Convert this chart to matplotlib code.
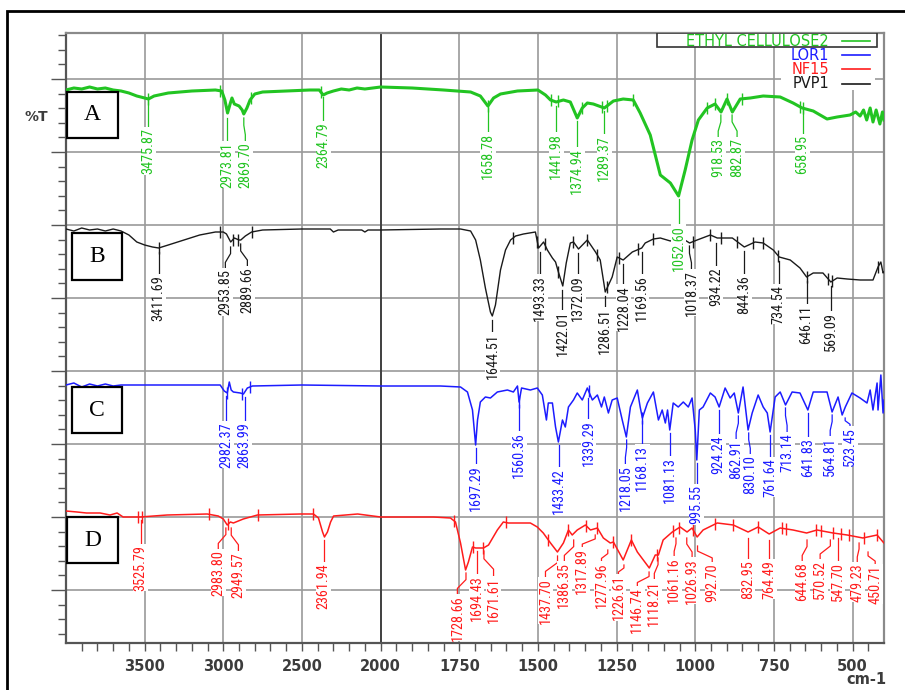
import numpy as np
import matplotlib
matplotlib.use('Agg')
import matplotlib.pyplot as plt
import matplotlib.patches as patches
from matplotlib import font_manager
from matplotlib.ticker import FixedLocator, FuncFormatter

# ---------------- data (wavenumber, %T in chart units) ----------------
ec_wn = [4000, 3950, 3900, 3850, 3800, 3750, 3700, 3650, 3600, 3550, 3500, 3476, 3440, 3350, 3200,
         3050, 3010, 2990, 2973, 2955, 2945, 2930, 2900, 2880, 2870, 2850, 2830, 2800, 2750, 2600,
         2450, 2390, 2375, 2365, 2340, 2300, 2250, 2200, 2150, 2100, 2050, 2000, 1900, 1800, 1714,
         1683, 1659, 1641, 1619, 1565, 1500, 1476, 1460, 1442, 1419, 1397, 1375, 1359, 1343, 1324,
         1289, 1260, 1229, 1197, 1175, 1143, 1111, 1079, 1053, 1032, 1010, 990, 962, 937, 918, 899,
         882, 857, 825, 784, 730, 689, 660, 625, 581, 549, 508, 490, 476, 465, 455, 444, 435, 425,
         413, 405, 400]
ec_t = [600, 602, 601, 603, 601, 602, 600, 599, 597, 594, 592, 591, 594, 597, 599,
        600, 599, 590, 577, 587, 592, 586, 584, 580, 576, 582, 590, 596, 598, 599,
        600, 600, 597, 595, 597, 599, 601, 600, 602, 601, 602, 603, 602, 600, 598,
        594, 584, 592, 596, 599, 600, 595, 590, 588, 590, 588, 572, 582, 587, 586,
        582, 589, 591, 590, 577, 555, 515, 507, 494, 520, 550, 570, 582, 586, 578, 591,
        578, 591, 592, 594, 593, 587, 582, 579, 571, 573, 575, 578, 574, 580, 570, 582, 568, 580,
        566, 578, 570]

pvp_wn = [4000, 3950, 3900, 3850, 3800, 3750, 3700, 3650, 3600, 3550, 3500, 3450, 3411, 3350, 3250,
          3150, 3050, 3000, 2980, 2953, 2930, 2900, 2889, 2860, 2820, 2750, 2500, 2320, 2300, 2270,
          2120, 2100, 2080, 2000, 1810, 1746, 1714, 1698, 1683, 1667, 1651, 1645, 1635, 1619, 1603,
          1587, 1571, 1546, 1508, 1498, 1482, 1470, 1454, 1444, 1435, 1421, 1410, 1397, 1387, 1371,
          1343, 1317, 1302, 1286, 1264, 1248, 1229, 1200, 1170, 1159, 1133, 1111, 1079, 1048, 1018,
          994, 952, 930, 914, 882, 844, 810, 784, 752, 733, 698, 667, 646, 625, 594, 569, 549, 517,
          476, 435, 419, 410, 403, 400]
pvp_t = [461, 459, 462, 460, 461, 459, 461, 459, 455, 448, 445, 443, 442, 445, 450,
         455, 458, 458, 456, 448, 452, 450, 450, 454, 458, 460, 461, 461, 458, 460,
         460, 458, 460, 460, 461, 461, 459, 450, 430, 402, 378, 374, 385, 420, 440,
         450, 454, 456, 458, 442, 448, 440, 432, 428, 418, 404, 427, 447, 448, 441,
         450, 438, 430, 398, 413, 433, 430, 438, 442, 447, 451, 452, 449, 453, 447,
         450, 455, 452, 452, 452, 443, 448, 447, 440, 433, 430, 422, 413, 417, 417, 408, 412, 411,
         410, 410, 423, 428, 417, 418]

lor_wn = [4000, 3950, 3900, 3850, 3800, 3750, 3700, 3650, 3500, 3020, 2994, 2975, 2962, 2950, 2936,
          2892, 2872, 2847, 2815, 2500, 2000, 1810, 1746, 1724, 1708, 1698, 1692, 1683, 1667, 1651,
          1629, 1597, 1578, 1565, 1560, 1552, 1524, 1502, 1486, 1473, 1467, 1454, 1444, 1435, 1422,
          1413, 1403, 1387, 1375, 1359, 1343, 1327, 1311, 1298, 1289, 1276, 1264, 1248, 1232, 1219,
          1206, 1184, 1175, 1168, 1152, 1133, 1117, 1105, 1095, 1088, 1081, 1070, 1054, 1038, 1022,
          1010, 1000, 995, 987, 975, 952, 937, 924, 905, 889, 876, 863, 848, 832, 819, 800, 784, 771,
          762, 746, 730, 713, 692, 667, 642, 625, 581, 565, 546, 533, 523, 502, 476, 454, 444, 435,
          422, 419, 410, 403, 400]
lor_t = [305, 307, 303, 306, 304, 306, 304, 305, 305, 305, 299, 297, 308, 300, 298,
         297, 296, 302, 304, 305, 304, 304, 303, 298, 280, 245, 270, 288, 293, 292,
         298, 300, 298, 304, 288, 302, 300, 302, 295, 270, 287, 287, 263, 248, 270,
         263, 283, 290, 297, 290, 302, 290, 295, 283, 293, 277, 290, 292, 270, 253,
         283, 300, 283, 272, 287, 298, 270, 280, 267, 280, 260, 287, 283, 288, 283,
         292, 260, 230, 280, 283, 297, 293, 283, 302, 292, 297, 277, 303, 260, 277, 295, 283, 277,
         258, 293, 298, 285, 298, 297, 280, 298, 298, 278, 293, 275, 283, 297, 292, 287, 300, 280,
         307, 280, 315, 277, 290]

nf_wn = [4000, 3930, 3870, 3783, 3720, 3675, 3637, 3529, 3357, 3102, 3032, 3000, 2975, 2955, 2936,
         2873, 2783, 2510, 2427, 2395, 2369, 2357, 2338, 2318, 2299, 2146, 2000, 1832, 1778, 1762,
         1746, 1730, 1721, 1708, 1698, 1689, 1673, 1657, 1629, 1610, 1594, 1565, 1524, 1502, 1483,
         1460, 1438, 1419, 1403, 1391, 1375, 1349, 1333, 1311, 1292, 1270, 1260, 1229, 1203, 1184,
         1146, 1127, 1117, 1102, 1073, 1048, 1026, 1010, 994, 975, 930, 879, 832, 800, 765, 730,
         689, 646, 613, 562, 517, 467, 422, 403, 400]
nf_t = [179, 178, 177, 177, 175, 177, 173, 173, 175, 176, 174, 171, 165, 168, 167,
        171, 175, 176, 176, 172, 158, 153, 158, 168, 174, 176, 173, 173, 172, 168,
        147, 120, 128, 143, 142, 142, 142, 145, 160, 168, 167, 167, 167, 163, 157,
        147, 138, 147, 160, 155, 160, 165, 160, 162, 152, 147, 148, 130, 150, 138,
        122, 135, 135, 150, 158, 163, 158, 162, 153, 160, 167, 165, 158, 163, 156, 162,
        160, 157, 160, 157, 155, 152, 155, 148, 147]

# peak labels: text, x of text (cm-1), leader start, text top
ec_peaks = ['3475.87', '2973.81', '2869.70', '2364.79', '1658.78', '1441.98', '1374.94', '1289.37',
            '1052.60', '918.53', '882.87', '658.95']
ec_px = [3475.87, 2973.81, 2860, 2364.79, 1658.78, 1441.98, 1374.94, 1289.37, 1052.60, 927, 867, 658.95]
ec_from = [590, 572, 572, 593, 582, 584, 569, 579, 491, 575, 575, 580]
ec_top = [562, 548, 548, 568, 557, 557, 542, 555, 465, 552, 552, 555]

pvp_peaks = ['3411.69', '2953.85', '2889.66', '1644.51', '1493.33', '1422.01', '1372.09', '1286.51',
             '1228.04', '1169.56', '1018.37', '934.22', '844.36', '734.54', '646.11', '569.09']
pvp_px = [3411.69, 2987, 2847, 1644.51, 1493.33, 1422.01, 1372.09, 1286.51, 1228.04, 1169.56, 1012,
          934.22, 844.36, 734.54, 646.11, 569.09]
pvp_from = [438, 443, 446, 370, 438, 400, 437, 394, 426, 438, 444, 447, 439, 429, 409, 404]
pvp_top = [415, 421, 423, 357, 415, 379, 415, 382, 405, 415, 420, 423, 415, 405, 385, 378]

lor_peaks = ['2982.37', '2863.99', '1697.29', '1560.36', '1433.42', '1339.29', '1218.05', '1168.13',
             '1081.13', '995.55', '924.24', '862.91', '830.10', '761.64', '713.14', '641.83', '564.81',
             '523.45']
lor_px = [2982.37, 2863.99, 1697.29, 1560.36, 1433.42, 1339.29, 1222, 1168.13, 1081.13, 995.55, 927,
          870, 825, 761.64, 708, 641.83, 571, 508]
lor_from = [294, 293, 242, 285, 245, 292, 250, 269, 257, 227, 280, 274, 257, 255, 282, 277, 275, 272]
lor_top = [268, 268, 225, 258, 222, 270, 225, 245, 233, 205, 255, 250, 235, 232, 257, 252, 253, 263]

nf_peaks = ['3525.79', '2983.80', '2949.57', '2361.94', '1728.66', '1694.43', '1671.61', '1437.70',
            '1386.35', '1317.89', '1277.96', '1226.61', '1146.74', '1118.21', '1061.16', '1026.93',
            '992.70', '832.95', '764.49', '644.68', '570.52', '547.70', '479.23', '450.71']
nf_px = [3525.79, 3032, 2904, 2361.94, 1756, 1694.43, 1641, 1476, 1416, 1359, 1298, 1244, 1184, 1130,
         1067, 1010, 946, 832.95, 764.49, 660, 603, 547.70, 485, 428]
nf_from = [170, 162, 162, 150, 117, 139, 139, 134, 150, 155, 140, 125, 118, 132, 152, 152, 144, 152,
           150, 150, 150, 152, 147, 138]
nf_top = [145, 140, 138, 127, 95, 115, 113, 112, 128, 142, 128, 115, 103, 110, 133, 132, 127, 130,
          130, 128, 130, 128, 127, 125]

# small peak-pick markers on each trace
ec_marks = [3476, 3019, 2822, 2382, 1659, 1457, 1435, 1359, 1295, 1279, 1197, 962, 937, 899, 851, 667, 657]
pvp_marks = [3411, 3020, 2940, 2905, 2820, 1578, 1502, 1479, 1435, 1390, 1343, 1311, 1279, 1241, 1181,
             1133, 1006, 952, 918, 867, 816, 784, 737, 644, 578, 565, 419]
lor_marks = [2975, 2880, 2830, 1560, 1339, 1168]
nf_marks = [3540, 3516, 3089, 2968, 2777, 2427, 1768, 1705, 1676, 1603, 1467, 1403, 1346, 1311, 1261,
            1203, 1121, 1070, 1051, 1006, 937, 879, 800, 724, 711, 616, 600, 562, 537, 511, 463, 422]

x_major = [3500, 3000, 2500, 2000, 1750, 1500, 1250, 1000, 750, 500]

GREEN, BLUE, RED, BLACK = '#22c422', '#1c1cff', '#ff1c1c', '#1a1a1a'

# pick a narrow font for the peak labels if one exists
names = {f.name for f in font_manager.fontManager.ttflist}
narrow = next((n for n in ['Liberation Sans Narrow', 'Roboto Condensed', 'Open Sans Condensed',
                           'Arial Narrow'] if n in names), None)
if narrow:
    pk_font = dict(family=narrow, fontsize=10.3)
else:
    pk_font = dict(family='DejaVu Sans', fontstretch='condensed', fontsize=7.8)


def fwd(x):
    x = np.asarray(x, dtype=float)
    return np.where(x >= 2000, x / 2 + 1000, x)


def inv(u):
    u = np.asarray(u, dtype=float)
    return np.where(u >= 2000, 2 * (u - 1000), u)


fig = plt.figure(figsize=(9.05, 6.9), dpi=100)
ax = fig.add_axes([66 / 905, 47 / 690, 818 / 905, 610 / 690])
ax.set_xscale('function', functions=(fwd, inv))
ax.set_xlim(4000, 400)
ax.set_ylim(47, 657)

# pixel helpers for boxes etc. (axes fraction)
def fx(px):
    return (px - 66) / 818


def fy(py):
    return (643 - py) / 610


traces = [
    (ec_wn, ec_t, GREEN, 2.2, ec_peaks, ec_px, ec_from, ec_top, ec_marks),
    (pvp_wn, pvp_t, BLACK, 1.0, pvp_peaks, pvp_px, pvp_from, pvp_top, pvp_marks),
    (lor_wn, lor_t, BLUE, 1.1, lor_peaks, lor_px, lor_from, lor_top, lor_marks),
    (nf_wn, nf_t, RED, 1.1, nf_peaks, nf_px, nf_from, nf_top, nf_marks),
]

for wn, t, col, lw, peaks, tx, y0, y1, marks in traces:
    wn = np.array(wn, float)
    t = np.array(t, float)
    ax.plot(wn, t, color=col, lw=lw, zorder=3)
    my = np.interp(marks, wn[::-1], t[::-1])
    ax.vlines(marks, my - 6, my + 6, color=col, lw=1.0, zorder=3)
    for lab, x_t, a, b in zip(peaks, tx, y0, y1):
        pk = float(lab)
        d = a - b
        if abs(x_t - pk) < 3:
            xs, ys = [pk, pk], [a, b + 1]
        else:
            xs = [pk, pk, x_t, x_t]
            ys = [a, a - 0.3 * d, a - 0.7 * d, b + 1]
        ax.plot(xs, ys, color=col, lw=0.9, zorder=3)
        ax.text(x_t, b, lab, rotation=90, ha='center', va='top', color=col, zorder=4,
                bbox=dict(facecolor='white', edgecolor='none', pad=0.4), **pk_font)

# axes styling
ax.xaxis.set_major_locator(FixedLocator(x_major))
minor = [v for v in list(range(3900, 2000, -100)) + list(range(1950, 400, -50)) if v not in x_major]
ax.xaxis.set_minor_locator(FixedLocator(minor))
ax.xaxis.set_major_formatter(FuncFormatter(lambda v, p: f'{v:.0f}'))
ax.yaxis.set_major_locator(FixedLocator(np.arange(100, 620, 73)))
ax.yaxis.set_minor_locator(FixedLocator([v for v in np.arange(56.2, 657, 14.6)
                                         if min(abs(v - np.arange(100, 620, 73))) > 1]))
ax.set_yticklabels([])
ax.tick_params(axis='x', which='both', direction='out', length=6, width=1, color='#555555',
               pad=5.5, labelsize=10.5, labelcolor='#3c3c3c')
ax.tick_params(axis='y', which='major', direction='out', length=11, width=1, color='#555555')
ax.tick_params(axis='y', which='minor', direction='out', length=6, width=1, color='#555555')
for lab in ax.get_xticklabels():
    lab.set_fontweight('bold')
ax.grid(True, which='major', color='#9a9a9a', lw=1.2, zorder=1)
ax.axvline(2000, color='#3a3a3a', lw=1.3, zorder=1.5)
for s in ['left', 'bottom']:
    ax.spines[s].set_color('#555555')
    ax.spines[s].set_linewidth(1.6)
for s in ['top', 'right']:
    ax.spines[s].set_color('#8a8a8a')
    ax.spines[s].set_linewidth(1.6)
ax.set_axisbelow(True)

# legend drawn by hand: box only round the first entry
ax.add_patch(patches.Rectangle((fx(781), fy(90)), fx(875) - fx(781), fy(47) - fy(90),
                               transform=ax.transAxes, facecolor='white', edgecolor='none', zorder=2.5))
ax.add_patch(patches.Rectangle((fx(657), fy(47)), fx(877) - fx(657), fy(33) - fy(47),
                               transform=ax.transAxes, facecolor='white', edgecolor='#333333',
                               lw=1.2, zorder=5))
leg = [('ETHYL CELLULOSE2', GREEN, 41), ('LOR1', BLUE, 55), ('NF15', RED, 69), ('PVP1', BLACK, 84)]
for name, col, py in leg:
    ax.text(fx(829), fy(py), name, transform=ax.transAxes, ha='right', va='center',
            color=col, fontsize=10.5, zorder=6)
    ax.plot([fx(842), fx(870)], [fy(py), fy(py)], transform=ax.transAxes, color=col, lw=1.2, zorder=6)

# sample letter boxes
boxes = [('A', 67, 92, 118, 138), ('B', 72, 233, 122, 280), ('C', 72, 387, 122, 433), ('D', 67, 517, 118, 563)]
for letter, x0, y0, x1, y1 in boxes:
    ax.add_patch(patches.Rectangle((fx(x0), fy(y1)), fx(x1) - fx(x0), fy(y0) - fy(y1),
                                   transform=ax.transAxes, facecolor='white', edgecolor='black',
                                   lw=1.6, zorder=5))
    ax.text((fx(x0) + fx(x1)) / 2, (fy(y0) + fy(y1)) / 2, letter, transform=ax.transAxes,
            ha='center', va='center', family='Liberation Serif', fontsize=17, zorder=6)

fig.text(36 / 905, 1 - 117 / 690, '%T', ha='center', va='center', fontsize=10,
         fontweight='bold', color='#3c3c3c')
fig.text(866 / 905, 1 - 680 / 690, 'cm-1', ha='center', va='center', fontsize=10.5,
         fontweight='bold', color='#3c3c3c')

# outer frame of the figure
fig.add_artist(patches.Rectangle((7 / 905, -0.05), 1.0, 1 - 11 / 690 + 0.05, transform=fig.transFigure,
                                 facecolor='none', edgecolor='black', lw=2))

fig.savefig('out.png', dpi=100)
